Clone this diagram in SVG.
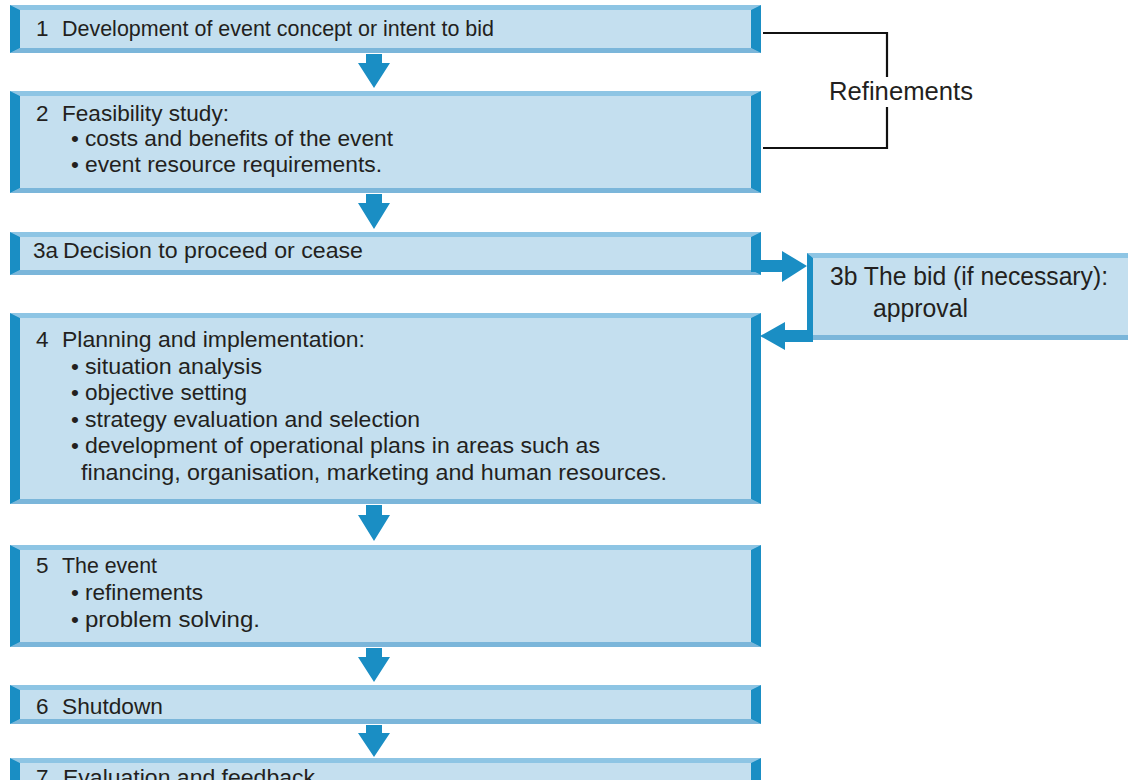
<svg xmlns="http://www.w3.org/2000/svg" width="1128" height="780" viewBox="0 0 1128 780">
<defs>
<style>
.fill{fill:#c4dfef}
.top{fill:#8ec5e4}
.bot{fill:#7bb6da}
.dark{fill:#1a8ec4}
.arrow{fill:#1a8ec4}
.t{font-family:"Liberation Sans",Arial,sans-serif;font-size:22.5px;fill:#231f20}
.big{font-family:"Liberation Sans",Arial,sans-serif;font-size:25px;fill:#231f20}
.br{fill:none;stroke:#111;stroke-width:2.2}
</style>
</defs>
<rect width="1128" height="780" fill="#ffffff"/>

<g id="node1">
<rect class="fill" x="10" y="5" width="751" height="48"/>
<polygon class="top" points="10,5 761,5 751,10 20,10"/>
<polygon class="bot" points="10,53 761,53 751,48 20,48"/>
<polygon class="dark" points="10,5 20,10 20,48 10,53"/>
<polygon class="dark" points="761,5 751,10 751,48 761,53"/>
<text class="t" x="36" y="36">1</text>
<text class="t" x="62" y="36" textLength="432" lengthAdjust="spacingAndGlyphs">Development of event concept or intent to bid</text>
</g>

<g id="node2">
<rect class="fill" x="10" y="91" width="751" height="102"/>
<polygon class="top" points="10,91 761,91 751,96 20,96"/>
<polygon class="bot" points="10,193 761,193 751,188 20,188"/>
<polygon class="dark" points="10,91 20,96 20,188 10,193"/>
<polygon class="dark" points="761,91 751,96 751,188 761,193"/>
<text class="t" x="36" y="121">2</text>
<text class="t" x="62" y="121" textLength="167" lengthAdjust="spacingAndGlyphs">Feasibility study:</text>
<text class="t" x="71" y="146">•</text>
<text class="t" x="85" y="146" textLength="308" lengthAdjust="spacingAndGlyphs">costs and benefits of the event</text>
<text class="t" x="71" y="172">•</text>
<text class="t" x="85" y="172" textLength="297" lengthAdjust="spacingAndGlyphs">event resource requirements.</text>
</g>

<g id="node3a">
<rect class="fill" x="10" y="232" width="751" height="43"/>
<polygon class="top" points="10,232 761,232 751,237 20,237"/>
<polygon class="bot" points="10,275 761,275 751,270 20,270"/>
<polygon class="dark" points="10,232 20,237 20,270 10,275"/>
<polygon class="dark" points="761,232 751,237 751,270 761,275"/>
<text class="t" x="33" y="258">3a</text>
<text class="t" x="63" y="258" textLength="300" lengthAdjust="spacingAndGlyphs">Decision to proceed or cease</text>
</g>

<g id="node3b">
<rect class="fill" x="807" y="253" width="330" height="87"/>
<polygon class="top" points="807,253 1137,253 1137,258 813,258"/>
<polygon class="bot" points="807,340 1137,340 1137,335 813,335"/>
<polygon class="dark" points="807,253 813,258 813,342 807,342"/>
<text class="big" x="830" y="285" textLength="278" lengthAdjust="spacingAndGlyphs">3b The bid (if necessary):</text>
<text class="big" x="873" y="317" textLength="95" lengthAdjust="spacingAndGlyphs">approval</text>
</g>

<g id="node4">
<rect class="fill" x="10" y="313" width="751" height="191"/>
<polygon class="top" points="10,313 761,313 751,318 20,318"/>
<polygon class="bot" points="10,504 761,504 751,499 20,499"/>
<polygon class="dark" points="10,313 20,318 20,499 10,504"/>
<polygon class="dark" points="761,313 751,318 751,499 761,504"/>
<text class="t" x="36" y="347">4</text>
<text class="t" x="62" y="347" textLength="303" lengthAdjust="spacingAndGlyphs">Planning and implementation:</text>
<text class="t" x="71" y="373.5">•</text>
<text class="t" x="85" y="373.5" textLength="177" lengthAdjust="spacingAndGlyphs">situation analysis</text>
<text class="t" x="71" y="400">•</text>
<text class="t" x="85" y="400" textLength="162" lengthAdjust="spacingAndGlyphs">objective setting</text>
<text class="t" x="71" y="426.5">•</text>
<text class="t" x="85" y="426.5" textLength="335" lengthAdjust="spacingAndGlyphs">strategy evaluation and selection</text>
<text class="t" x="71" y="453">•</text>
<text class="t" x="85" y="453" textLength="515" lengthAdjust="spacingAndGlyphs">development of operational plans in areas such as</text>
<text class="t" x="81" y="479.5" textLength="586" lengthAdjust="spacingAndGlyphs">financing, organisation, marketing and human resources.</text>
</g>

<g id="node5">
<rect class="fill" x="10" y="545" width="751" height="102"/>
<polygon class="top" points="10,545 761,545 751,550 20,550"/>
<polygon class="bot" points="10,647 761,647 751,642 20,642"/>
<polygon class="dark" points="10,545 20,550 20,642 10,647"/>
<polygon class="dark" points="761,545 751,550 751,642 761,647"/>
<text class="t" x="36" y="573">5</text>
<text class="t" x="62" y="573" textLength="95" lengthAdjust="spacingAndGlyphs">The event</text>
<text class="t" x="71" y="600">•</text>
<text class="t" x="85" y="600" textLength="118" lengthAdjust="spacingAndGlyphs">refinements</text>
<text class="t" x="71" y="627">•</text>
<text class="t" x="85" y="627" textLength="175" lengthAdjust="spacingAndGlyphs">problem solving.</text>
</g>

<g id="node6">
<rect class="fill" x="10" y="685" width="751" height="39"/>
<polygon class="top" points="10,685 761,685 751,690 20,690"/>
<polygon class="bot" points="10,724 761,724 751,719 20,719"/>
<polygon class="dark" points="10,685 20,690 20,719 10,724"/>
<polygon class="dark" points="761,685 751,690 751,719 761,724"/>
<text class="t" x="36" y="714">6</text>
<text class="t" x="62" y="714" textLength="101" lengthAdjust="spacingAndGlyphs">Shutdown</text>
</g>

<g id="node7">
<rect class="fill" x="10" y="758" width="751" height="40"/>
<polygon class="top" points="10,758 761,758 751,763 20,763"/>
<polygon class="dark" points="10,758 20,763 20,798 10,798"/>
<polygon class="dark" points="761,758 751,763 751,798 761,798"/>
<text class="t" x="36" y="785">7</text>
<text class="t" x="63" y="785" textLength="252" lengthAdjust="spacingAndGlyphs">Evaluation and feedback</text>
</g>

<g id="connectors">
<polygon class="arrow" points="366,54 382,54 382,63 390,63 374,88 358,63 366,63"/>
<polygon class="arrow" points="366,194 382,194 382,203 390,203 374,229 358,203 366,203"/>
<polygon class="arrow" points="366,505 382,505 382,515 390,515 374,541 358,515 366,515"/>
<polygon class="arrow" points="366,648 382,648 382,657 390,657 374,682 358,657 366,657"/>
<polygon class="arrow" points="366,725 382,725 382,733 390,733 374,757 358,733 366,733"/>
<polygon class="arrow" points="751,260 782,260 782,251 807,266 782,282 782,272 751,272"/>
<polygon class="arrow" points="813,330 785,330 785,322 760,336 785,350 785,342 813,342"/>
<path class="br" d="M763,33 H887 V77"/>
<path class="br" d="M887,107 V148 H763"/>
<text class="big" x="829" y="100" textLength="144" lengthAdjust="spacingAndGlyphs">Refinements</text>
</g>
</svg>
